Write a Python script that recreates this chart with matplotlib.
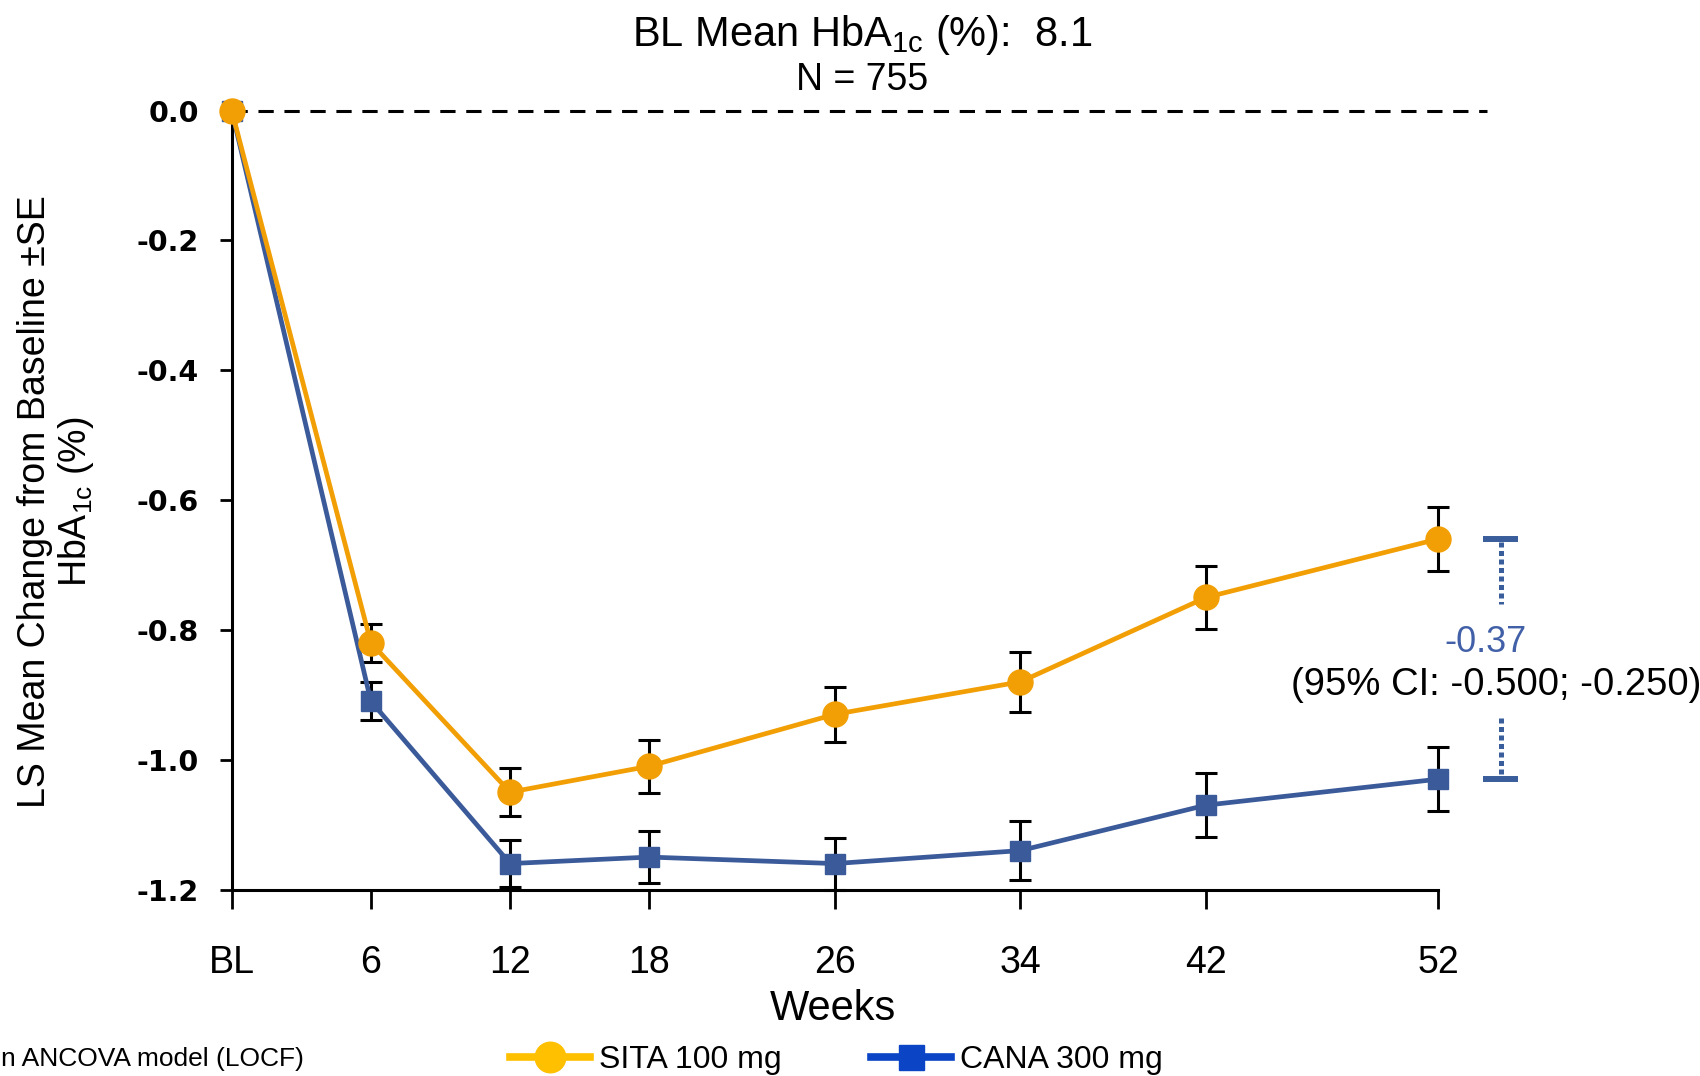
# HbA1c change from baseline: SITA 100 mg vs CANA 300 mg
# --------------------------------------------------------------
import numpy as np
import matplotlib
matplotlib.use("Agg")
import matplotlib.pyplot as plt
from matplotlib.lines import Line2D

# fonts
plt.rcParams['font.family'] = ['Liberation Sans', 'DejaVu Sans']
plt.rcParams['mathtext.fontset'] = 'custom'
plt.rcParams['mathtext.rm'] = 'Liberation Sans'
plt.rcParams['mathtext.it'] = 'Liberation Sans:italic'
plt.rcParams['mathtext.bf'] = 'Liberation Sans:bold'

# data
weeks = [0, 6, 12, 18, 26, 34, 42, 52]
week_labels = ['BL', '6', '12', '18', '26', '34', '42', '52']
sita_mean = [0.0, -0.82, -1.05, -1.01, -0.93, -0.88, -0.75, -0.66]
sita_se = [0.0, 0.029, 0.037, 0.041, 0.042, 0.046, 0.049, 0.049]
cana_mean = [0.0, -0.91, -1.16, -1.15, -1.16, -1.14, -1.07, -1.03]
cana_se = [0.0, 0.029, 0.036, 0.040, 0.040, 0.045, 0.049, 0.049]
y_ticks = [0.0, -0.2, -0.4, -0.6, -0.8, -1.0, -1.2]
y_tick_labels = ['0.0', '-0.2', '-0.4', '-0.6', '-0.8', '-1.0', '-1.2']
diff_label = '-0.37'
ci_label = '(95% CI: -0.500; -0.250)'

# colours
sita_color = '#F29F05'
cana_color = '#3B5A9A'
sita_leg_color = '#FFC000'
cana_leg_color = '#0B45C6'
note_color = '#3A5E9C'

# figure
fig = plt.figure(figsize=(17, 10.76), dpi=100)
ax = fig.add_axes([0.1363, 0.1733, 0.7915, 0.7239])

# zero reference line
ax.plot([0, 54.1], [0, 0], color='black', lw=2.2, dashes=(5, 3.5), zorder=1, clip_on=False)

# error bars (no bar at baseline)
ax.errorbar(weeks[1:], cana_mean[1:], yerr=cana_se[1:], fmt='none', ecolor='black',
            elinewidth=2.2, capsize=8, capthick=2.2, zorder=2, clip_on=False)
ax.errorbar(weeks[1:], sita_mean[1:], yerr=sita_se[1:], fmt='none', ecolor='black',
            elinewidth=2.2, capsize=8, capthick=2.2, zorder=2, clip_on=False)

# main lines
ax.plot(weeks, cana_mean, color=cana_color, lw=3.4, marker='s', markersize=14,
        zorder=3, clip_on=False)
ax.plot(weeks, sita_mean, color=sita_color, lw=3.4, marker='o', markersize=18,
        zorder=4, clip_on=False)

# limits and spines
ax.set_xlim(0, 58)
ax.set_ylim(-1.2, 0)
ax.spines['top'].set_visible(False)
ax.spines['right'].set_visible(False)
ax.spines['left'].set_linewidth(2.2)
ax.spines['bottom'].set_linewidth(2.2)
ax.spines['bottom'].set_bounds(0, 52)

# ticks
ax.set_xticks(weeks)
ax.set_xticklabels(week_labels, fontsize=27)
ax.set_yticks(y_ticks)
ax.set_yticklabels(y_tick_labels, fontsize=20.5, fontweight='bold', family='DejaVu Sans')
ax.tick_params(axis='x', length=14, width=2, pad=26)
ax.tick_params(axis='y', length=8.6, width=2, pad=15)

# difference bracket at week 52
x_br = 54.7
top, bot = sita_mean[-1], cana_mean[-1]
ax.plot([x_br - 0.75, x_br + 0.75], [top, top], color=note_color, lw=4.3, solid_capstyle='butt', clip_on=False)
ax.plot([x_br - 0.75, x_br + 0.75], [bot, bot], color=note_color, lw=4.3, solid_capstyle='butt', clip_on=False)
ax.plot([x_br, x_br], [top - 0.005, top - 0.1], color=note_color, lw=3.6,
        linestyle=(0, (1, 0.7)), dash_capstyle='butt', clip_on=False)
ax.plot([x_br, x_br], [bot + 0.095, bot + 0.005], color=note_color, lw=3.6,
        linestyle=(0, (1, 0.7)), dash_capstyle='butt', clip_on=False)
ax.text(54.05, -0.82, diff_label, color='#4160A8', fontsize=26, ha='center', va='center', clip_on=False)
ax.text(54.5, -0.885, ci_label, color='black', fontsize=27.5, ha='center', va='center', clip_on=False)

# titles and labels
fig.text(0.507, 1 - 34.7 / 1076, r'BL Mean HbA$_{\mathrm{1c}}$ (%):  8.1', fontsize=30, ha='center', va='center')
fig.text(0.507, 1 - 80 / 1076, 'N = 755', fontsize=27, ha='center', va='center')
fig.text(57 / 1700, 0.5335, 'LS Mean Change from Baseline \u00b1SE\nHbA$_{\\mathrm{1c}}$ (%)',
         fontsize=27, rotation=90, ha='center', va='center', multialignment='center', linespacing=1.1)
fig.text(833 / 1700, 1 - 1009 / 1076, 'Weeks', fontsize=30, ha='center', va='center')

# footnote (only the part visible at the left edge)
fig.text(1 / 1700, 1 - 1059 / 1076, 'n ANCOVA model (LOCF)', fontsize=19, ha='left', va='center')

# legend
handles = [
    Line2D([], [], color=sita_leg_color, lw=5.5, marker='o', markersize=22),
    Line2D([], [], color=cana_leg_color, lw=5.5, marker='s', markersize=18),
]
fig.legend(handles, ['SITA 100 mg', 'CANA 300 mg'], loc='center left',
           bbox_to_anchor=(510 / 1700, 1 - 1060 / 1076), ncol=2, frameon=False,
           fontsize=23, handlelength=2.5, handletextpad=0.3, columnspacing=2.78,
           borderpad=0, borderaxespad=0)

plt.savefig('out.png', dpi=100)
